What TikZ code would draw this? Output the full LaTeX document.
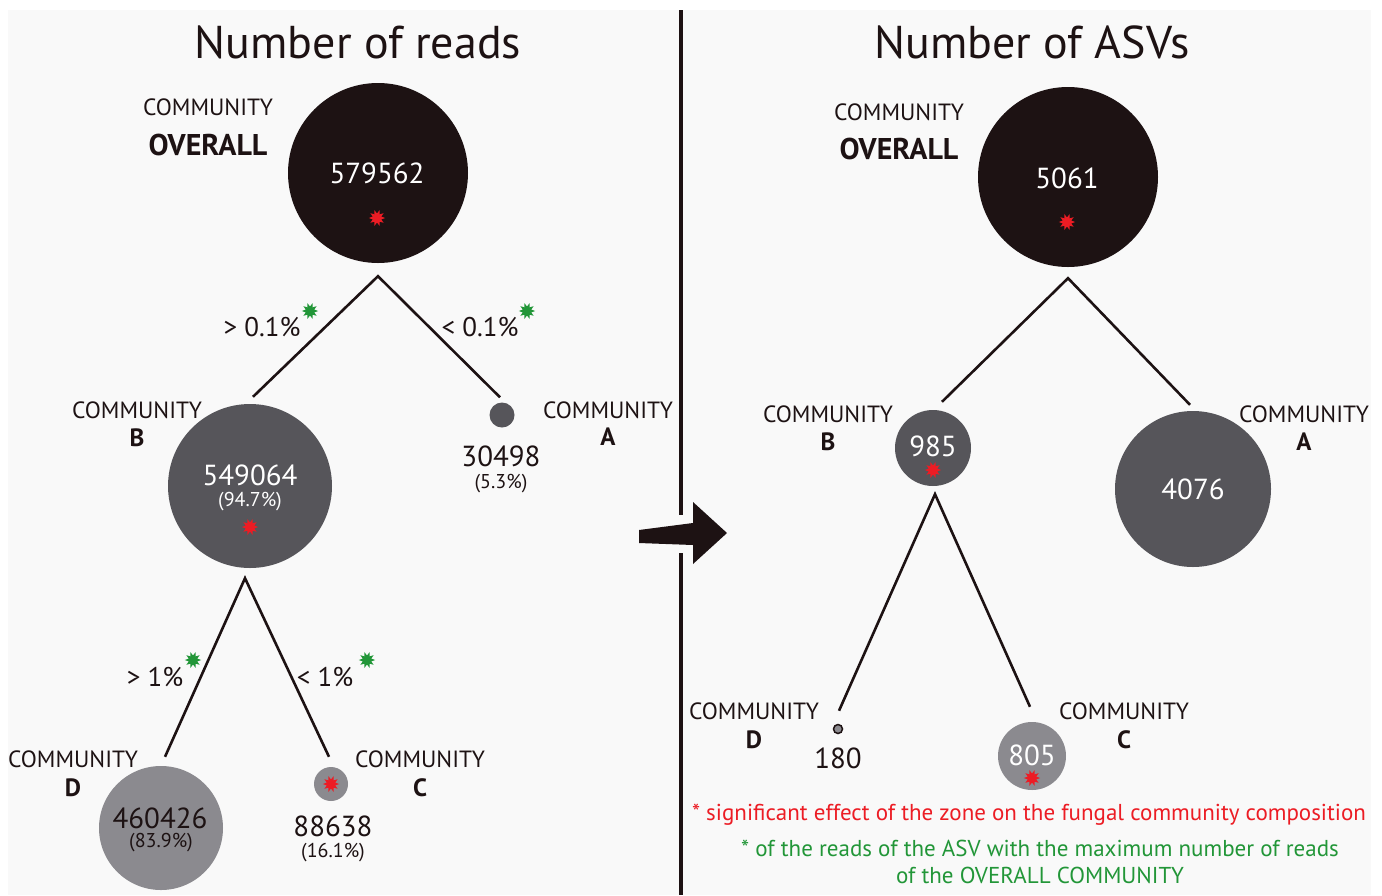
\documentclass[tikz,border=0pt]{standalone}
\usepackage{fontspec}
\setmainfont{PT Sans}
\usetikzlibrary{positioning,shapes.geometric}

\definecolor{inkdark}{RGB}{29,18,19}
\definecolor{midgrey}{RGB}{86,85,90}
\definecolor{lightgrey}{RGB}{139,138,143}
\definecolor{panelgrey}{RGB}{249,249,249}
\definecolor{sigred}{RGB}{236,28,36}
\definecolor{maxgreen}{RGB}{34,150,56}

\tikzset{
  dotdark/.style={circle, fill=inkdark, inner sep=0pt},
  dotmid/.style={circle, fill=midgrey, inner sep=0pt},
  dotlight/.style={circle, fill=lightgrey, inner sep=0pt},
  sigstar/.style={star, star points=10, star point ratio=0.55, fill=sigred, inner sep=0pt, minimum size=9pt},
  maxstar/.style={sigstar, fill=maxgreen},
  branch/.style={draw=inkdark, line width=2.6pt},
  divider/.style={draw=inkdark, line width=4pt},
  titletext/.style={font=\fontsize{46}{52}\selectfont, text=inkdark},
  comlab/.style={font=\fontsize{23.5}{26}\selectfont, text=inkdark},
  comlet/.style={font=\bfseries\fontsize{25}{28}\selectfont, text=inkdark},
  numw/.style={font=\fontsize{29}{32}\selectfont, text=white},
  numb/.style={font=\fontsize{29}{32}\selectfont, text=inkdark},
  pctw/.style={font=\fontsize{20}{22}\selectfont, text=white},
  pctb/.style={font=\fontsize{20}{22}\selectfont, text=inkdark},
  cutlab/.style={font=\fontsize{27}{30}\selectfont, text=inkdark},
  legred/.style={font=\fontsize{23}{26}\selectfont, text=sigred},
  leggreen/.style={font=\fontsize{23}{26}\selectfont, text=maxgreen}
}

\begin{document}
\begin{tikzpicture}[x=1pt,y=-1pt]
\useasboundingbox (0,0) rectangle (1382,895);
\fill[white] (0,0) rectangle (1382,895);
\fill[panelgrey] (8,10) rectangle (1371,895);

% number of reads
\node[titletext] (readsTitle) at (358,42) {Number of reads};

\node[dotdark, minimum size=180pt] (allReads) at (378,173) {};
\node[numw] (allReadsNum) at (377,173) {579562};
\node[sigstar] (allReadsSig) at (377,218) {};
\node[comlab] (allReadsCom) at (208,107) {COMMUNITY};
\node[comlet, font=\bfseries\fontsize{30}{34}\selectfont] (allReadsLet) at (208,145) {OVERALL};

\node[dotmid, minimum size=164pt] (bReads) at (250,486) {};
\node[numw] (bReadsNum) at (250,475) {549064};
\node[pctw] (bReadsPct) at (250,502) {(94.7\%)};
\node[sigstar] (bReadsSig) at (250,527) {};
\node[comlab] (bReadsCom) at (137,410) {COMMUNITY};
\node[comlet] (bReadsLet) at (137,438) {B};

\node[dotmid, minimum size=25pt] (aReads) at (502,415) {};
\node[numb] (aReadsNum) at (501,456) {30498};
\node[pctb] (aReadsPct) at (501,484) {(5.3\%)};
\node[comlab] (aReadsCom) at (608,410) {COMMUNITY};
\node[comlet] (aReadsLet) at (608,437) {A};

\node[dotlight, minimum size=124pt] (dReads) at (161,828) {};
\node[numb] (dReadsNum) at (160,818) {460426};
\node[pctb] (dReadsPct) at (161,843) {(83.9\%)};
\node[comlab] (dReadsCom) at (73,759) {COMMUNITY};
\node[comlet] (dReadsLet) at (73,788) {D};

\node[dotlight, minimum size=34pt] (cReads) at (331,784) {};
\node[sigstar] (cReadsSig) at (331,784) {};
\node[numb] (cReadsNum) at (333,826) {88638};
\node[pctb] (cReadsPct) at (333,853) {(16.1\%)};
\node[comlab] (cReadsCom) at (420,759) {COMMUNITY};
\node[comlet] (cReadsLet) at (420,788) {C};

\coordinate[below=13pt of allReads.south] (allReadsFork);
\coordinate[above right=7pt and 3pt of bReads.north] (bReadsTop);
\coordinate[above left=5pt and 2pt of aReads.north] (aReadsTop);
\draw[branch] (bReadsTop) -- (allReadsFork) -- (aReadsTop);

\coordinate[below left=10pt and 5pt of bReads.south] (bReadsFork);
\coordinate[above right=9pt and 4pt of dReads.north] (dReadsTop);
\coordinate[above left=10pt and 2pt of cReads.north] (cReadsTop);
\draw[branch] (dReadsTop) -- (bReadsFork) -- (cReadsTop);

\node[cutlab] (cutHi) at (262,327) {> 0.1\%};
\node[maxstar] (cutHiMax) at (310,311) {};
\node[cutlab] (cutLo) at (480,327) {< 0.1\%};
\node[maxstar] (cutLoMax) at (527,311) {};
\node[cutlab] (cutHiB) at (155,677) {> 1\%};
\node[maxstar] (cutHiBMax) at (193,660) {};
\node[cutlab] (cutLoB) at (325,677) {< 1\%};
\node[maxstar] (cutLoBMax) at (367,660) {};

% divider and arrow
\coordinate (divTop) at (681,10);
\coordinate (divGapA) at (681,515);
\coordinate (divGapB) at (681,553);
\coordinate (divBot) at (681,895);
\draw[divider] (divTop) -- (divGapA) (divGapB) -- (divBot);
\fill[inkdark] (639,530) -- (693,523) -- (693,502) -- (727,533) -- (693,564) -- (693,545) -- (639,543) -- cycle;

% number of ASVs
\node[titletext] (asvTitle) at (1032,42) {Number of ASVs};

\node[dotdark, minimum size=180pt] (allAsv) at (1068,177) {};
\node[numw] (allAsvNum) at (1067,178) {5061};
\node[sigstar] (allAsvSig) at (1067,222) {};
\node[comlab] (allAsvCom) at (899,112) {COMMUNITY};
\node[comlet, font=\bfseries\fontsize{30}{34}\selectfont] (allAsvLet) at (899,149) {OVERALL};

\node[dotmid, minimum size=76pt] (bAsv) at (933,448) {};
\node[numw] (bAsvNum) at (933,446) {985};
\node[sigstar] (bAsvSig) at (933,470) {};
\node[comlab] (bAsvCom) at (828,414) {COMMUNITY};
\node[comlet] (bAsvLet) at (828,442) {B};

\node[dotmid, minimum size=156pt] (aAsv) at (1193,489) {};
\node[numw] (aAsvNum) at (1193,489) {4076};
\node[comlab] (aAsvCom) at (1304,414) {COMMUNITY};
\node[comlet] (aAsvLet) at (1304,442) {A};

\node[dotlight, draw=inkdark, line width=1.5pt, minimum size=9pt] (dAsv) at (838,729) {};
\node[numb] (dAsvNum) at (838,758) {180};
\node[comlab] (dAsvCom) at (754,711) {COMMUNITY};
\node[comlet] (dAsvLet) at (754,740) {D};

\node[dotlight, minimum size=68pt] (cAsv) at (1032,756) {};
\node[numw] (cAsvNum) at (1032,755) {805};
\node[sigstar] (cAsvSig) at (1032,778) {};
\node[comlab] (cAsvCom) at (1124,711) {COMMUNITY};
\node[comlet] (cAsvLet) at (1124,740) {C};

\coordinate[below=11pt of allAsv.south] (allAsvFork);
\coordinate[above right=8pt and 9pt of bAsv.north] (bAsvTop);
\coordinate[above left=6pt and 3pt of aAsv.north] (aAsvTop);
\draw[branch] (bAsvTop) -- (allAsvFork) -- (aAsvTop);

\coordinate[below right=8pt and 2pt of bAsv.south] (bAsvFork);
\coordinate[above right=13pt and 1pt of dAsv.north] (dAsvTop);
\coordinate[above left=15pt and 2pt of cAsv.north] (cAsvTop);
\draw[branch] (dAsvTop) -- (bAsvFork) -- (cAsvTop);

% legend
\node[legred] (legSig) at (1029,815) {* significant effect of the zone on the fungal community composition};
\node[leggreen] (legMaxA) at (1040,848) {* of the reads of the ASV with the maximum number of reads};
\node[leggreen] (legMaxB) at (1040,875) {of the OVERALL COMMUNITY};
\end{tikzpicture}
\end{document}
